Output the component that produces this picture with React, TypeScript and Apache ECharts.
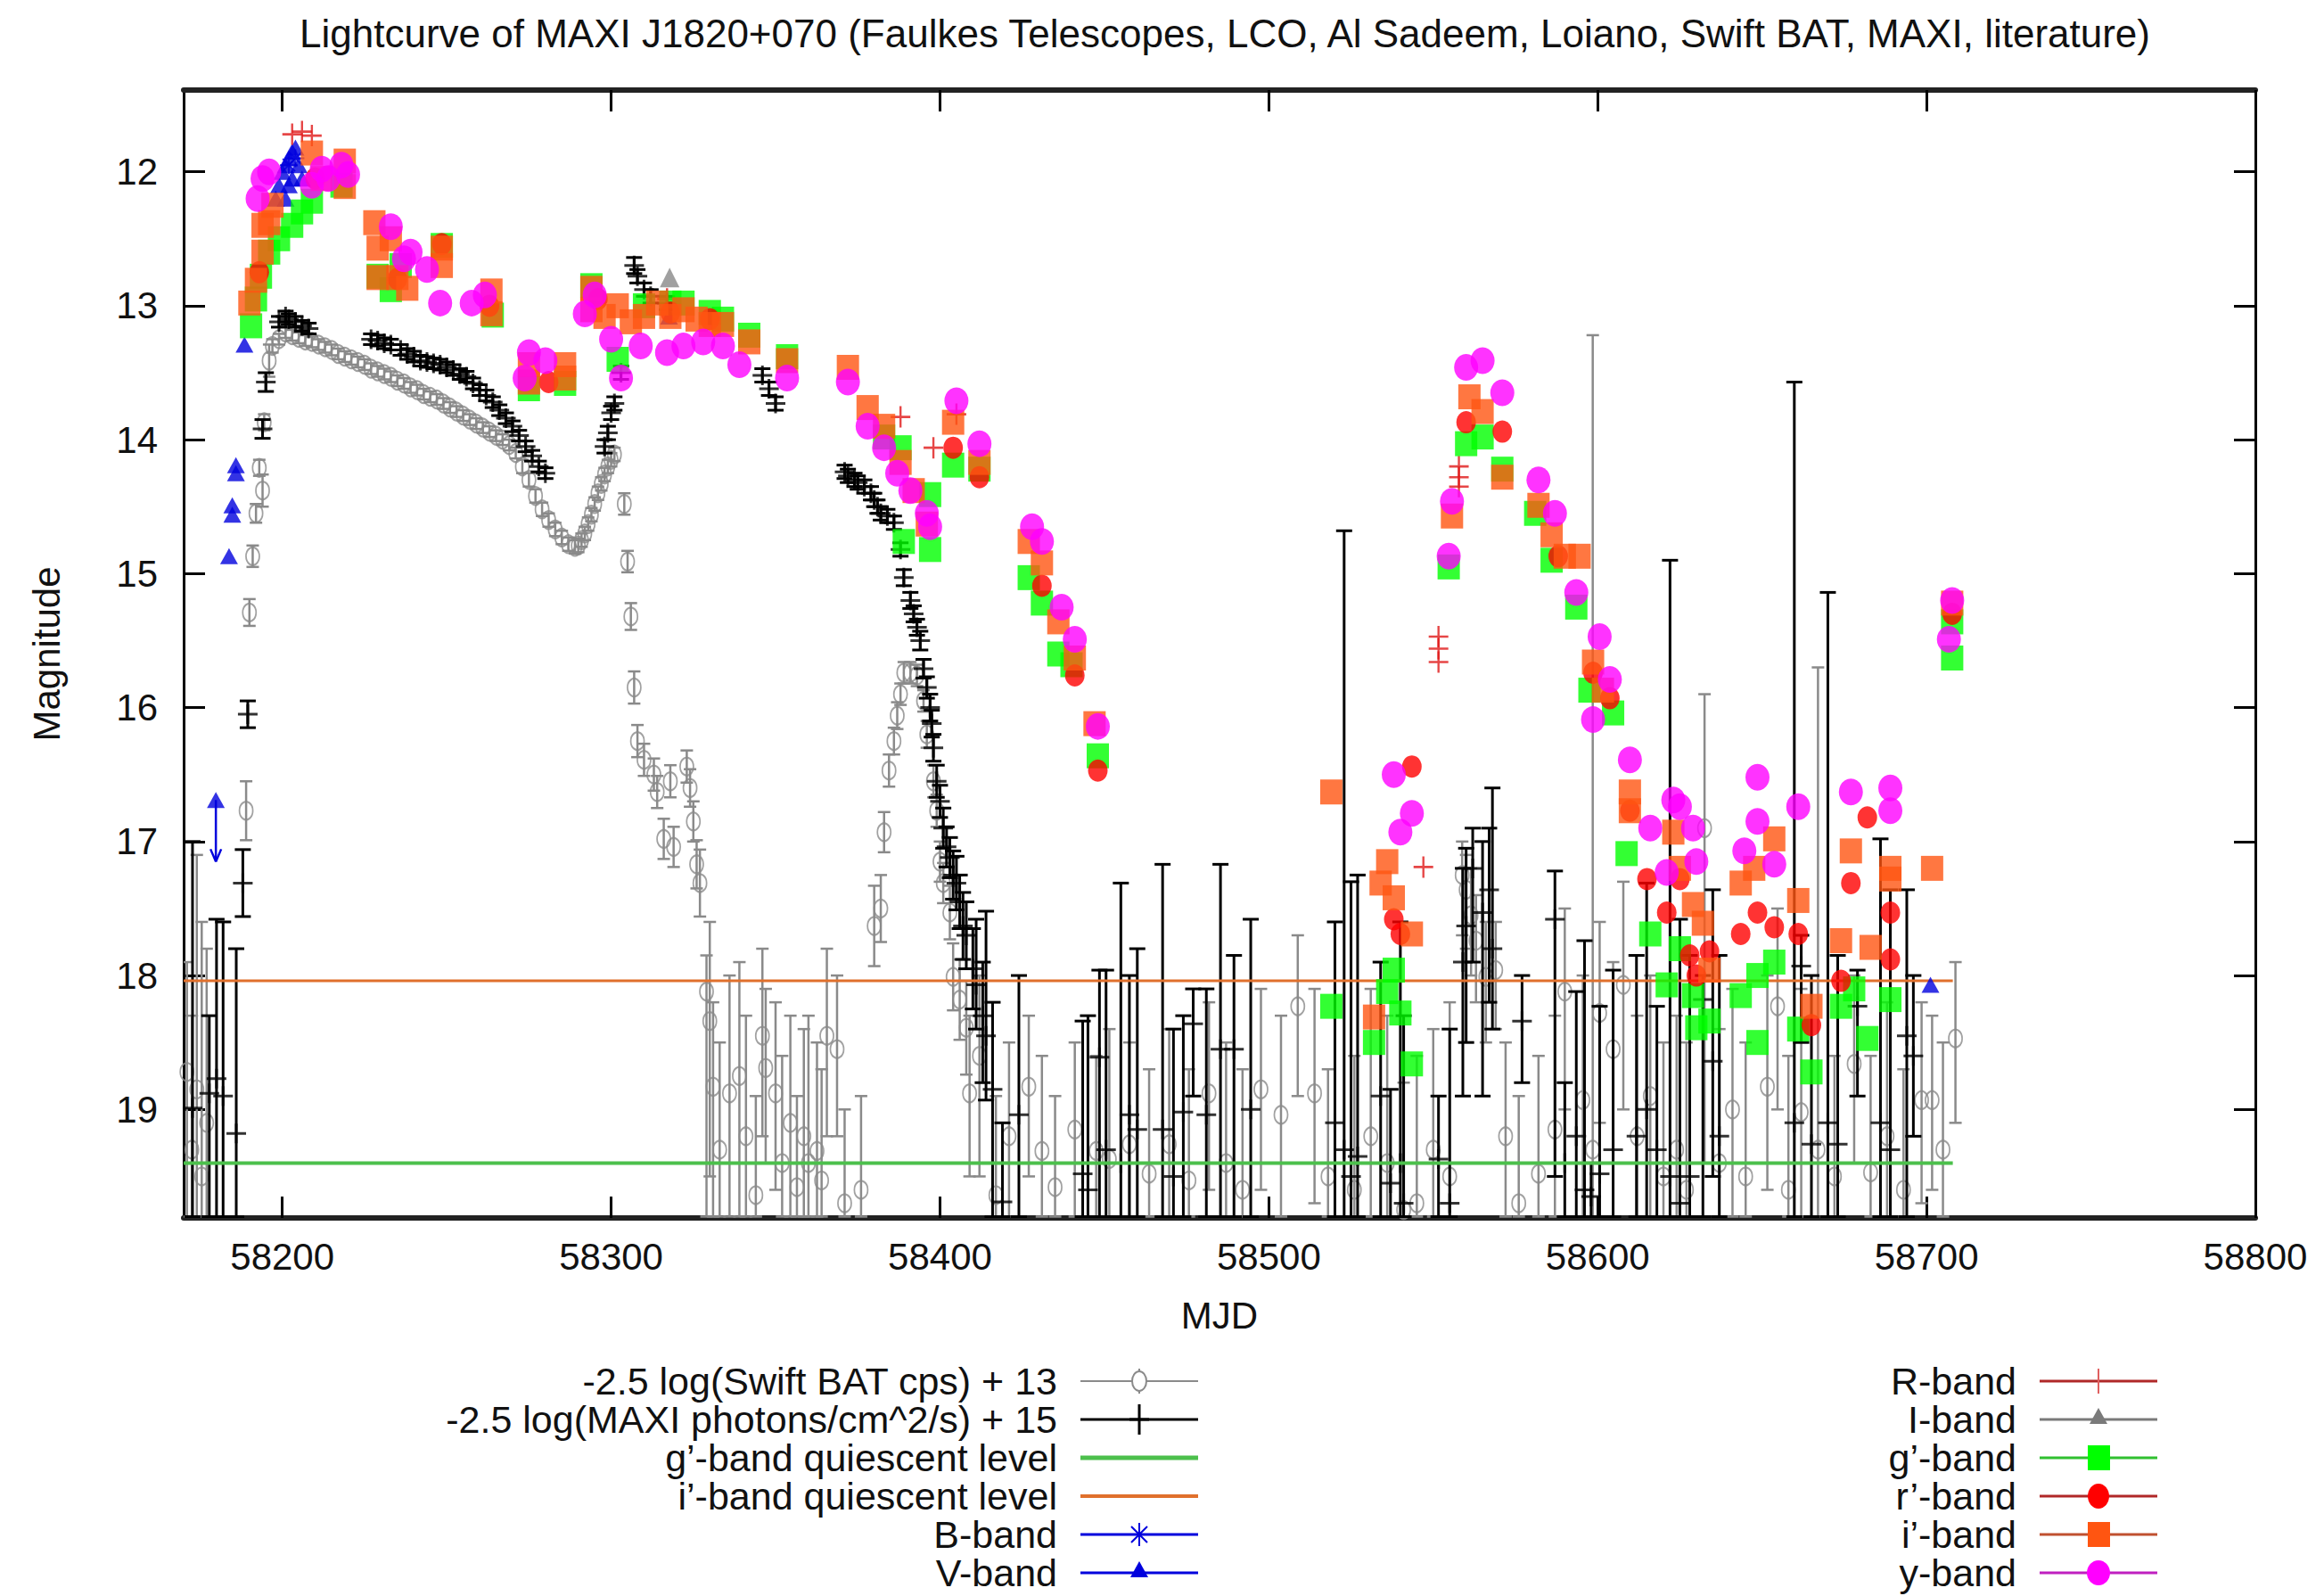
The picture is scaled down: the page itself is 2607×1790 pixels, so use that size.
import React, { useEffect, useRef } from "react";
import * as echarts from "echarts";

const FONT = "'Liberation Sans', Arial, Helvetica, sans-serif";
const TITLE =
  "Lightcurve of MAXI J1820+070 (Faulkes Telescopes, LCO, Al Sadeem, Loiano, Swift BAT, MAXI, literature)";
const X_NAME = "MJD";
const Y_NAME = "Magnitude";

const X_MIN = 58170;
const X_MAX = 58800;
const Y_MIN = 11.39;
const Y_MAX = 19.81;
const xTickValues = [58200, 58300, 58400, 58500, 58600, 58700, 58800];
const yTickValues = [12, 13, 14, 15, 16, 17, 18, 19];

// quiescent levels
const gQuiescent = 19.4;
const iQuiescent = 18.04;
const quiescentSpan = [58170, 58708];

// Swift BAT: [mjd, mag, err]
const batBright = [
  [58189, 16.77, 0.22], [58190, 15.29, 0.1], [58191, 14.87, 0.08], [58192, 14.55, 0.07],
  [58193, 14.21, 0.06], [58194, 14.38, 0.12], [58194.5, 13.87, 0.06], [58196, 13.41, 0.12],
  [58197, 13.3, 0.05], [58199, 13.25, 0.04],
  [58201, 13.2, 0.04], [58203, 13.22, 0.04], [58205, 13.24, 0.04], [58207, 13.26, 0.04],
  [58209, 13.27, 0.04], [58211, 13.29, 0.04], [58213, 13.31, 0.04], [58215, 13.33, 0.04],
  [58217, 13.36, 0.04], [58219, 13.38, 0.04], [58221, 13.4, 0.04], [58223, 13.42, 0.04],
  [58225, 13.44, 0.04], [58227, 13.47, 0.04], [58229, 13.49, 0.04], [58231, 13.51, 0.04],
  [58233, 13.53, 0.04], [58235, 13.56, 0.04], [58237, 13.58, 0.04], [58239, 13.61, 0.04],
  [58241, 13.63, 0.04], [58243, 13.66, 0.04], [58245, 13.68, 0.04], [58247, 13.7, 0.04],
  [58249, 13.73, 0.04], [58251, 13.76, 0.04], [58253, 13.79, 0.04], [58255, 13.82, 0.04],
  [58257, 13.85, 0.04], [58259, 13.88, 0.04], [58261, 13.91, 0.04], [58263, 13.94, 0.04],
  [58265, 13.97, 0.04], [58267, 14.0, 0.04], [58269, 14.04, 0.04], [58271, 14.1, 0.04],
  [58273, 14.2, 0.05], [58275, 14.3, 0.05], [58277, 14.42, 0.05], [58279, 14.52, 0.05],
  [58281, 14.6, 0.05], [58283, 14.67, 0.05], [58285, 14.73, 0.05], [58287, 14.78, 0.05],
  [58289, 14.8, 0.05], [58290, 14.79, 0.05], [58291, 14.75, 0.05], [58292, 14.7, 0.05],
  [58293, 14.63, 0.05], [58294, 14.56, 0.05], [58295, 14.48, 0.05], [58296, 14.4, 0.05],
  [58297, 14.33, 0.05], [58298, 14.26, 0.05], [58299, 14.2, 0.05], [58300, 14.15, 0.05],
  [58301, 14.11, 0.05],
  [58304, 14.48, 0.08], [58305, 14.91, 0.08], [58306, 15.32, 0.1], [58307, 15.85, 0.12],
  [58308, 16.25, 0.12], [58310, 16.39, 0.12], [58313, 16.5, 0.12], [58314, 16.63, 0.12],
  [58316, 16.98, 0.15], [58318, 16.55, 0.12], [58319, 17.04, 0.15], [58323, 16.44, 0.12],
  [58324, 16.6, 0.14], [58325, 16.85, 0.15], [58326, 17.17, 0.18], [58327, 17.31, 0.25],
  [58380, 17.63, 0.3], [58382, 17.5, 0.25], [58383, 16.93, 0.15], [58384.5, 16.47, 0.12],
  [58386, 16.25, 0.1], [58387, 16.06, 0.1], [58388, 15.9, 0.08], [58389, 15.74, 0.08],
  [58391, 15.74, 0.08], [58393, 15.76, 0.08], [58395, 15.95, 0.08], [58396, 16.2, 0.1],
  [58398, 16.55, 0.12], [58399, 16.77, 0.12], [58400, 17.15, 0.15], [58401, 17.31, 0.15],
  [58403, 17.53, 0.2], [58404, 18.01, 0.25], [58406, 18.18, 0.3], [58408, 18.39, 0.35],
];

// Swift BAT faint points: [mjd, mag, brightLimit, faintLimit]
const batFaint = [
  [58171, 18.72, 17.9, 19.8], [58172.5, 19.3, 18.3, 19.8], [58174, 18.85, 17.1, 19.8],
  [58175.5, 19.5, 17.6, 19.8], [58177, 19.1, 17.8, 19.8],
  [58329, 18.12, 17.85, 19.8], [58330, 18.34, 17.6, 19.5], [58331, 18.83, 18.2, 19.8],
  [58333, 19.3, 18.5, 19.8], [58336, 18.88, 18.0, 19.8], [58339, 18.75, 17.9, 19.8],
  [58341, 19.2, 18.3, 19.8], [58344, 19.64, 18.9, 19.8], [58346, 18.45, 17.8, 19.2],
  [58347, 18.69, 18.1, 19.4], [58350, 18.88, 18.2, 19.6], [58352, 19.4, 18.6, 19.8],
  [58354.5, 19.1, 18.3, 19.8], [58356.5, 19.58, 18.9, 19.8], [58358.6, 19.2, 18.4, 19.8],
  [58360, 19.4, 18.3, 19.8], [58362.6, 19.31, 18.5, 19.8], [58364, 19.53, 18.7, 19.8],
  [58365.6, 18.45, 17.8, 19.2], [58368.7, 18.55, 18.0, 19.2], [58371, 19.7, 19.0, 19.8],
  [58376, 19.6, 18.9, 19.8],
  [58409, 18.88, 18.3, 19.5], [58412, 18.6, 18.0, 19.5], [58417, 19.64, 18.9, 19.8],
  [58421, 19.2, 18.5, 19.8], [58427, 18.83, 18.3, 19.5], [58431, 19.31, 18.6, 19.8],
  [58435, 19.58, 18.9, 19.8], [58441, 19.15, 18.5, 19.8], [58447.5, 19.31, 18.6, 19.8],
  [58451.5, 19.37, 18.4, 19.8], [58457.6, 19.26, 18.5, 19.8], [58463.6, 19.48, 18.7, 19.8],
  [58469.7, 19.26, 18.4, 19.8], [58475.7, 19.53, 18.7, 19.8], [58481.8, 18.88, 18.2, 19.6],
  [58487, 19.4, 18.5, 19.8], [58492, 19.6, 18.7, 19.8], [58497.6, 18.85, 18.1, 19.6],
  [58503.7, 19.04, 18.3, 19.8], [58508.8, 18.23, 17.7, 18.9], [58513.9, 18.88, 18.1, 19.7],
  [58518, 19.5, 18.7, 19.8], [58526, 19.6, 18.6, 19.8], [58531, 19.2, 18.1, 19.8],
  [58536, 19.4, 18.3, 19.8], [58541, 19.75, 18.8, 19.8], [58545, 19.7, 18.6, 19.8],
  [58550, 19.3, 18.4, 19.8], [58555, 19.5, 18.2, 19.8], [58558.8, 17.25, 17.0, 17.7],
  [58560, 17.36, 17.1, 17.8], [58561.5, 17.55, 17.2, 18.0], [58563, 17.74, 17.4, 18.2],
  [58566, 18.01, 17.6, 18.5], [58569, 17.96, 17.6, 18.4], [58572, 19.2, 18.5, 19.8],
  [58576, 19.7, 18.9, 19.8], [58582, 19.48, 18.6, 19.8], [58587, 19.15, 18.3, 19.8],
  [58590, 18.12, 17.5, 19.0], [58595.5, 18.93, 18.0, 19.8], [58598.5, 19.3, 13.22, 19.8],
  [58600.6, 18.28, 17.6, 19.1], [58604.7, 18.55, 17.9, 19.4], [58607.8, 18.07, 17.3, 19.0],
  [58612, 19.2, 18.3, 19.8], [58616, 18.9, 18.0, 19.8], [58620, 19.5, 18.5, 19.8],
  [58624, 19.3, 18.3, 19.8], [58627, 19.6, 18.5, 19.8], [58632.5, 16.9, 15.9, 19.4],
  [58637, 19.4, 18.4, 19.8], [58641, 19.0, 18.1, 19.8], [58645, 19.5, 18.5, 19.8],
  [58651.6, 18.83, 18.0, 19.6], [58654.7, 18.23, 17.5, 19.0], [58658, 19.6, 18.6, 19.8],
  [58661.9, 19.02, 18.1, 19.8], [58667, 19.3, 15.7, 19.8], [58672, 19.5, 18.6, 19.8],
  [58678, 18.66, 18.0, 19.4], [58683, 19.47, 18.6, 19.8], [58688, 19.2, 18.2, 19.8],
  [58693, 19.6, 18.7, 19.8], [58698.5, 18.93, 18.2, 19.7], [58701.7, 18.93, 18.3, 19.6],
  [58705, 19.3, 18.5, 19.8], [58708.8, 18.47, 17.9, 19.1],
];

// MAXI: [mjd, mag, err]
const maxiBright = [
  [58188, 17.31, 0.25], [58189.5, 16.05, 0.1], [58194, 13.92, 0.07], [58195, 13.57, 0.07],
  [58199, 13.12, 0.04], [58201, 13.08, 0.04], [58202, 13.1, 0.04], [58204, 13.12, 0.04],
  [58206, 13.15, 0.04], [58208, 13.17, 0.04], [58227, 13.25, 0.04], [58229, 13.26, 0.04],
  [58231, 13.28, 0.04], [58233, 13.29, 0.04], [58236, 13.33, 0.04], [58238, 13.36, 0.04],
  [58240, 13.38, 0.04], [58242, 13.41, 0.04], [58244, 13.42, 0.04], [58246, 13.43, 0.04],
  [58248, 13.44, 0.04], [58250, 13.46, 0.04], [58252, 13.48, 0.04], [58254, 13.51, 0.04],
  [58256, 13.53, 0.04], [58258, 13.58, 0.04], [58260, 13.63, 0.04], [58262, 13.67, 0.04],
  [58264, 13.72, 0.04], [58266, 13.78, 0.04], [58268, 13.84, 0.04], [58270, 13.9, 0.04],
  [58272, 13.97, 0.04], [58274, 14.05, 0.04], [58276, 14.12, 0.04], [58278, 14.2, 0.04],
  [58280, 14.25, 0.04],
  [58298, 14.05, 0.05], [58299, 13.95, 0.05], [58300, 13.8, 0.05], [58301, 13.73, 0.05],
  [58303, 13.5, 0.05], [58307, 12.7, 0.06], [58308, 12.78, 0.05], [58310, 12.88, 0.05],
  [58312, 12.93, 0.05], [58317, 12.98, 0.05], [58346, 13.52, 0.05], [58348, 13.62, 0.05],
  [58350, 13.73, 0.05],
  [58371, 14.24, 0.05], [58372, 14.27, 0.05], [58374, 14.3, 0.05], [58375, 14.32, 0.05],
  [58377, 14.35, 0.05], [58379, 14.4, 0.05], [58380, 14.45, 0.05], [58381, 14.5, 0.05],
  [58382, 14.55, 0.05], [58384, 14.57, 0.05], [58386, 14.62, 0.05], [58388, 14.82, 0.05],
  [58389, 15.03, 0.06], [58391, 15.2, 0.06], [58392, 15.3, 0.06], [58393, 15.4, 0.06],
  [58394, 15.5, 0.07], [58395, 15.71, 0.07], [58396, 15.85, 0.08], [58397, 16.0, 0.1],
  [58397.5, 16.12, 0.1], [58398, 16.3, 0.1], [58399, 16.55, 0.12], [58400, 16.7, 0.12],
  [58401, 16.9, 0.15], [58402, 17.04, 0.15], [58403, 17.12, 0.15], [58404, 17.25, 0.18],
  [58405, 17.31, 0.2], [58406, 17.45, 0.2], [58407, 17.63, 0.25], [58408, 17.7, 0.25],
  [58410, 17.95, 0.3],
];

// MAXI faint points: [mjd, mag, brightLimit, faintLimit]
const maxiFaint = [
  [58172.7, 18.99, 17.0, 19.8], [58177.8, 18.88, 18.3, 19.8], [58180, 18.77, 17.58, 19.8],
  [58182, 18.9, 17.6, 19.8], [58186, 19.18, 17.8, 19.8],
  [58411, 18.07, 17.58, 18.4], [58413, 18.3, 17.9, 18.8], [58414, 18.45, 17.52, 18.93],
  [58416, 18.85, 18.2, 19.8], [58419, 19.69, 19.1, 19.8], [58424, 19.04, 18.0, 19.8],
  [58443.4, 19.48, 18.34, 19.8], [58445, 19.6, 18.3, 19.8], [58448.5, 18.61, 17.96, 19.8],
  [58450.5, 19.3, 17.96, 19.8], [58455, 19.4, 17.31, 19.8], [58457.6, 19.04, 18.0, 19.8],
  [58460, 19.15, 17.8, 19.8], [58467.7, 19.15, 17.17, 19.8], [58471, 19.5, 18.4, 19.8],
  [58474, 19.02, 18.3, 19.8], [58477, 18.36, 18.1, 18.9], [58481, 19.04, 18.1, 19.8],
  [58485.3, 18.55, 17.17, 19.8], [58489.4, 18.55, 17.85, 19.8], [58494.5, 19.0, 17.58, 19.8],
  [58520.1, 19.1, 17.6, 19.8], [58522.9, 19.3, 14.68, 19.8], [58525, 19.5, 17.3, 19.8],
  [58527, 19.35, 17.25, 19.8], [58534, 18.9, 17.9, 19.8], [58537, 19.55, 18.85, 19.8],
  [58540, 19.4, 17.6, 19.8], [58541, 19.7, 18.3, 19.8], [58551.6, 19.37, 18.9, 19.8],
  [58555, 19.7, 18.4, 19.8], [58559, 17.9, 17.2, 18.9], [58560, 17.63, 17.05, 18.5],
  [58562, 17.2, 16.9, 17.9], [58565, 17.53, 17.0, 18.9], [58567, 17.36, 16.9, 18.2],
  [58568, 17.8, 16.6, 18.4], [58577, 18.34, 18.0, 18.8], [58587, 17.58, 17.22, 19.5],
  [58590, 19.4, 18.8, 19.8], [58593.5, 19.2, 18.12, 19.8], [58596, 19.6, 17.74, 19.8],
  [58598, 19.65, 19.4, 19.8], [58600.6, 19.48, 18.23, 19.8], [58604.7, 19.3, 17.96, 19.8],
  [58611.8, 19.2, 17.85, 19.8], [58614.9, 19.0, 17.31, 19.8], [58618, 19.3, 18.23, 19.8],
  [58622, 19.5, 14.9, 19.8], [58625, 19.7, 17.58, 19.8], [58628, 19.5, 17.85, 19.8],
  [58632, 18.18, 18.0, 19.8], [58635, 18.64, 17.36, 19.5], [58637, 19.2, 17.85, 19.8],
  [58659.8, 19.1, 13.57, 19.8], [58661.9, 17.93, 17.7, 18.5], [58665, 19.26, 18.0, 19.8],
  [58670, 19.1, 15.14, 19.8], [58673, 19.26, 17.85, 19.8], [58679, 18.23, 17.96, 18.9],
  [58686, 19.1, 16.98, 19.8], [58689, 19.3, 17.36, 19.8], [58694, 18.45, 17.36, 19.8],
  [58696, 18.6, 18.0, 19.2],
];

const bBand = [[58202, 11.95], [58204, 11.9]];
const vBand = [
  [58179.8, 16.69], [58183.8, 14.87], [58184.8, 14.49], [58184.8, 14.56], [58185.9, 14.19],
  [58185.9, 14.25], [58188.5, 13.29], [58198, 12.2], [58199, 12.1], [58200, 12.0],
  [58201, 12.2], [58201, 11.95], [58202, 12.1], [58202, 11.9], [58203, 12.05],
  [58203, 11.85], [58204, 11.82], [58205, 11.95], [58206, 12.05], [58317.6, 13.08],
  [58701.2, 18.07],
];
// V-band upper limit: [mjd, mag, arrowEnd]
const vLimit = [[58179.8, 16.69, 17.15]];
const rBandJ = [
  [58203, 11.72], [58206, 11.7], [58209, 11.73], [58317, 12.95], [58388, 13.83],
  [58398, 14.06], [58405, 13.81], [58547, 17.19], [58551.6, 15.47], [58551.6, 15.56],
  [58551.6, 15.66], [58557.8, 14.2], [58557.8, 14.28], [58557.8, 14.35],
];
const iBandJ = [[58317.8, 12.79]];
const gBand = [
  [58190.5, 13.15], [58192, 12.95], [58193.5, 12.78], [58196, 12.6], [58199, 12.5],
  [58203, 12.4], [58206, 12.3], [58209, 12.22], [58218, 12.1], [58229, 12.78], [58233, 12.88],
  [58236, 12.7], [58248.5, 12.55], [58264, 13.07], [58275, 13.62], [58286, 13.58],
  [58294, 12.85], [58302, 13.4], [58310, 13.0], [58318, 12.98], [58322, 12.98], [58330, 13.05],
  [58334, 13.1], [58342, 13.22], [58353.5, 13.38], [58383, 13.98], [58388, 14.06],
  [58389, 14.76], [58397, 14.41], [58397, 14.82], [58404, 14.19], [58412, 14.22],
  [58427, 15.03], [58431, 15.22], [58436, 15.6], [58440, 15.68], [58448, 16.36],
  [58519, 18.23], [58532, 18.5], [58536, 18.12], [58538, 17.96], [58540, 18.28],
  [58543.5, 18.66], [58554.7, 14.95], [58560, 14.03], [58565, 13.98], [58571, 14.22],
  [58581, 14.55], [58586, 14.9], [58593.5, 15.25], [58597.5, 15.87], [58604.7, 16.04],
  [58608.8, 17.09], [58616, 17.69], [58621, 18.07], [58625, 17.8], [58629, 18.15],
  [58630, 18.39], [58634, 18.34], [58643.5, 18.15], [58648.6, 18.5], [58648.6, 18.0],
  [58653.7, 17.9], [58661, 18.4], [58665, 18.72], [58674, 18.23], [58678, 18.1],
  [58682, 18.47], [58689, 18.18], [58707.8, 15.63], [58707.8, 15.36],
];
const rBand = [
  [58193, 12.75], [58210, 12.05], [58235, 12.8], [58248.5, 12.54], [58263, 13.0],
  [58281, 13.57], [58296, 12.95], [58318, 13.05], [58330, 13.1], [58404, 14.06],
  [58412, 14.28], [58431, 15.09], [58441, 15.76], [58448, 16.47],
  [58538, 17.58], [58540, 17.69], [58543.5, 16.44], [58560, 13.87], [58571, 13.94],
  [58588, 14.87], [58598.6, 15.74], [58603.7, 15.93], [58609.8, 16.77], [58615, 17.28],
  [58621, 17.53], [58625, 17.28], [58628, 17.85], [58630, 18.0], [58634, 17.82],
  [58643.5, 17.69], [58648.6, 17.53], [58653.7, 17.64], [58661, 17.69], [58665, 18.37],
  [58674, 18.04], [58677, 17.31], [58682, 16.82], [58689, 17.53], [58689, 17.88],
  [58707.8, 15.3],
];
const iBand = [
  [58190, 12.98], [58192, 12.81], [58194, 12.6], [58194, 12.4], [58196, 12.38],
  [58197, 12.25], [58209, 11.86], [58212, 12.05], [58219, 12.11],
  [58219, 11.92], [58228, 12.38], [58229, 12.57], [58229, 12.79], [58233, 12.5],
  [58235, 12.79], [58238, 12.87], [58248.5, 12.57], [58248.5, 12.7], [58263.6, 12.89],
  [58263.6, 13.06], [58275, 13.44], [58275, 13.57], [58286, 13.44], [58286, 13.54],
  [58294, 12.87], [58294, 13.03], [58298, 13.08], [58302, 13.0], [58306, 13.12],
  [58310, 13.08], [58314, 12.98], [58318, 13.08], [58322, 13.03], [58326, 13.1],
  [58330, 13.14], [58334, 13.14], [58342, 13.27], [58353.5, 13.41], [58372, 13.46],
  [58378, 13.76], [58383, 13.9], [58388, 14.17], [58392, 14.38], [58396, 14.63],
  [58404, 13.87], [58412, 14.17], [58427, 14.76], [58431, 14.92], [58436, 15.36],
  [58441, 15.63], [58447, 16.12],
  [58519, 16.63], [58532, 18.31], [58534, 17.31], [58536, 17.15], [58538, 17.42],
  [58543.5, 17.69], [58555.7, 14.57], [58561, 13.68], [58565, 13.79], [58571, 14.28],
  [58582, 14.49], [58586, 14.71], [58590, 14.87], [58594.5, 14.87], [58598.6, 15.66],
  [58601.6, 15.87], [58609.8, 16.63], [58609.8, 16.77], [58623, 16.93], [58625, 17.2],
  [58629, 17.47], [58632, 17.61], [58634, 17.96], [58643.5, 17.31], [58647.6, 17.2],
  [58653.7, 16.98], [58661, 17.44], [58665, 18.23], [58674, 17.74], [58677, 17.07],
  [58683, 17.79], [58689, 17.2], [58689, 17.28], [58701.7, 17.2], [58707.8, 15.22],
];
const yBand = [
  [58192.5, 12.2], [58194, 12.05], [58196, 12.0], [58209, 12.1], [58212, 11.98],
  [58214, 12.05], [58218, 11.95], [58220, 12.02], [58233, 12.41], [58237, 12.65], [58239, 12.6],
  [58244, 12.73], [58248, 12.98], [58257.6, 12.98], [58261.6, 12.92], [58273.7, 13.54],
  [58275, 13.35], [58280, 13.41], [58292, 13.06], [58295, 12.92], [58300, 13.25],
  [58303, 13.54], [58309, 13.3], [58317, 13.35], [58322, 13.3], [58328, 13.27],
  [58334, 13.3], [58339, 13.44], [58353.5, 13.54], [58372, 13.57], [58378, 13.9],
  [58383, 14.06], [58387, 14.25], [58391, 14.38], [58396, 14.55], [58397, 14.65],
  [58405, 13.71], [58412, 14.03], [58428, 14.65], [58431, 14.76], [58437, 15.25],
  [58441, 15.49], [58448, 16.14],
  [58538, 16.5], [58540, 16.93], [58543.5, 16.79], [58554.7, 14.87], [58555.7, 14.46],
  [58560, 13.46], [58565, 13.41], [58571, 13.65], [58582, 14.3], [58587, 14.55],
  [58593.5, 15.14], [58598.6, 16.09], [58600.6, 15.47], [58603.7, 15.79], [58609.8, 16.39],
  [58616, 16.9], [58621, 17.23], [58623, 16.69], [58625, 16.74], [58629, 16.9],
  [58630, 17.15], [58644.6, 17.07], [58648.6, 16.52], [58648.6, 16.85], [58653.7, 17.17],
  [58661, 16.74], [58677, 16.63], [58689, 16.6], [58689, 16.77], [58706.8, 15.49],
  [58707.8, 15.2],
];

const C = {
  bat: "#8a8a8a",
  maxi: "#000000",
  gQ: "#4cc04c",
  iQ: "#e0702c",
  blue: "#0000dd",
  R: "#e01818",
  I: "#888888",
  g: "#00ff00",
  r: "#ff0000",
  i: "#ff5511",
  y: "#ff00ff",
};

const PLUS = "path://M10 0 L10 20 M0 10 L20 10";
const STAR = "path://M10 0 L10 20 M0 10 L20 10 M3 3 L17 17 M17 3 L3 17";

const symErr = (arr: number[][]) => arr.map((d) => [d[0], d[1], d[1] - d[2], d[1] + d[2]]);

function errorBars(id: string, data: number[][], color: string, lw: number, cap: number, z: number) {
  return {
    type: "custom",
    id,
    name: id,
    z,
    silent: true,
    clip: true,
    data,
    encode: { x: 0, y: 1 },
    renderItem: (_p: any, api: any) => {
      const x = api.value(0);
      const a = api.coord([x, api.value(2)]);
      const b = api.coord([x, api.value(3)]);
      const st = { stroke: color, lineWidth: lw };
      return {
        type: "group",
        children: [
          { type: "line", shape: { x1: a[0], y1: a[1], x2: b[0], y2: b[1] }, style: st },
          { type: "line", shape: { x1: a[0] - cap, y1: a[1], x2: a[0] + cap, y2: a[1] }, style: st },
          { type: "line", shape: { x1: b[0] - cap, y1: b[1], x2: b[0] + cap, y2: b[1] }, style: st },
        ],
      };
    },
  };
}

function scatter(name: string, data: number[][], symbol: string, size: any, itemStyle: any, z: number) {
  return {
    type: "scatter",
    name,
    data: data.map((d) => [d[0], d[1]]),
    symbol,
    symbolSize: size,
    itemStyle,
    z,
    silent: true,
    clip: true,
  };
}

// ---------- legend (drawn as graphics, gnuplot style) ----------
const legendLeft = [
  { label: "-2.5 log(Swift BAT cps) + 13", color: C.bat, mark: "ocircle", lw: 2 },
  { label: "-2.5 log(MAXI photons/cm^2/s) + 15", color: C.maxi, mark: "plus", lw: 3 },
  { label: "g’-band quiescent level", color: C.gQ, mark: "", lw: 5 },
  { label: "i’-band quiescent level", color: C.iQ, mark: "", lw: 4 },
  { label: "B-band", color: C.blue, mark: "star", lw: 3 },
  { label: "V-band", color: C.blue, mark: "tri", lw: 3 },
];
const legendRight = [
  { label: "R-band", color: "#b02828", mark: "plusR", lw: 3 },
  { label: "I-band", color: "#7a7a7a", mark: "triI", lw: 3 },
  { label: "g’-band", color: "#30c030", mark: "sqG", lw: 3 },
  { label: "r’-band", color: "#b02828", mark: "cirR", lw: 3 },
  { label: "i’-band", color: "#c05030", mark: "sqI", lw: 3 },
  { label: "y-band", color: "#c020c0", mark: "cirY", lw: 3 },
];
const legendRows = [1549, 1592, 1635, 1678, 1721, 1764];

function legendMarker(mark: string, cx: number, cy: number): any[] {
  switch (mark) {
    case "ocircle":
      return [
        { type: "line", shape: { x1: cx, y1: cy - 14, x2: cx, y2: cy + 14 }, style: { stroke: C.bat, lineWidth: 2 } },
        { type: "ellipse", shape: { cx, cy, rx: 8, ry: 11 }, style: { fill: "#fff", stroke: C.bat, lineWidth: 2 } },
      ];
    case "plus":
      return [
        { type: "line", shape: { x1: cx, y1: cy - 17, x2: cx, y2: cy + 17 }, style: { stroke: "#000", lineWidth: 3 } },
        { type: "line", shape: { x1: cx - 11, y1: cy, x2: cx + 11, y2: cy }, style: { stroke: "#000", lineWidth: 3 } },
      ];
    case "star":
      return [
        { type: "line", shape: { x1: cx, y1: cy - 13, x2: cx, y2: cy + 13 }, style: { stroke: C.blue, lineWidth: 2 } },
        { type: "line", shape: { x1: cx - 9, y1: cy - 9, x2: cx + 9, y2: cy + 9 }, style: { stroke: C.blue, lineWidth: 2 } },
        { type: "line", shape: { x1: cx + 9, y1: cy - 9, x2: cx - 9, y2: cy + 9 }, style: { stroke: C.blue, lineWidth: 2 } },
      ];
    case "tri":
      return [{ type: "polygon", shape: { points: [[cx, cy - 13], [cx - 10, cy + 5], [cx + 10, cy + 5]] }, style: { fill: C.blue } }];
    case "plusR":
      return [{ type: "line", shape: { x1: cx, y1: cy - 14, x2: cx, y2: cy + 14 }, style: { stroke: "#e06060", lineWidth: 2 } }];
    case "triI":
      return [{ type: "polygon", shape: { points: [[cx, cy - 13], [cx - 10, cy + 5], [cx + 10, cy + 5]] }, style: { fill: "#7a7a7a" } }];
    case "sqG":
      return [{ type: "rect", shape: { x: cx - 12, y: cy - 14, width: 25, height: 28 }, style: { fill: C.g } }];
    case "cirR":
      return [{ type: "ellipse", shape: { cx, cy, rx: 12, ry: 14 }, style: { fill: C.r } }];
    case "sqI":
      return [{ type: "rect", shape: { x: cx - 12, y: cy - 14, width: 25, height: 28 }, style: { fill: C.i } }];
    case "cirY":
      return [{ type: "ellipse", shape: { cx, cy, rx: 13, ry: 14 }, style: { fill: C.y } }];
    default:
      return [];
  }
}

function legendGraphics(items: any[], textRight: number, lx1: number, lx2: number): any[] {
  const out: any[] = [];
  items.forEach((it, k) => {
    const y = legendRows[k];
    out.push({
      type: "text",
      x: textRight,
      y,
      style: { text: it.label, fill: "#111", font: `43px ${FONT}`, textAlign: "right", textVerticalAlign: "middle" },
    });
    out.push({ type: "line", shape: { x1: lx1, y1: y, x2: lx2, y2: y }, style: { stroke: it.color, lineWidth: it.lw } });
    legendMarker(it.mark, (lx1 + lx2) / 2, y).forEach((m) => out.push(m));
  });
  return out;
}

export default function App() {
  const ref = useRef<HTMLDivElement>(null);

  useEffect(() => {
    if (!ref.current) return;
    const chart = echarts.init(ref.current, null, { renderer: "svg" });

    const axisFont = { fontFamily: FONT, fontSize: 42, color: "#111" };
    const batAll = symErr(batBright).concat(batFaint);
    const maxiAll = symErr(maxiBright).concat(maxiFaint);
    const plain = (v: number) => String(v);

    const option: any = {
      animation: false,
      backgroundColor: "#ffffff",
      title: {
        text: TITLE,
        left: 1369,
        top: 10,
        textAlign: "center",
        textStyle: { fontFamily: FONT, fontSize: 44, fontWeight: "normal", color: "#111" },
      },
      grid: { left: 206, top: 101, width: 2324, height: 1265 },
      xAxis: [
        {
          type: "value",
          position: "bottom",
          min: X_MIN,
          max: X_MAX,
          name: X_NAME,
          nameLocation: "middle",
          nameGap: 88,
          nameTextStyle: { fontFamily: FONT, fontSize: 42, color: "#111" },
          axisLine: { show: true, onZero: false, lineStyle: { color: "#222", width: 6 } },
          axisTick: { show: true, inside: true, length: 24, customValues: xTickValues, lineStyle: { color: "#000", width: 3 } },
          axisLabel: { show: true, customValues: xTickValues, margin: 22, formatter: plain, ...axisFont },
          splitLine: { show: false },
        },
        {
          type: "value",
          position: "top",
          min: X_MIN,
          max: X_MAX,
          axisLine: { show: true, onZero: false, lineStyle: { color: "#222", width: 6 } },
          axisTick: { show: true, inside: true, length: 24, customValues: xTickValues, lineStyle: { color: "#000", width: 3 } },
          axisLabel: { show: false },
          splitLine: { show: false },
        },
      ],
      yAxis: [
        {
          type: "value",
          position: "left",
          inverse: true,
          min: Y_MIN,
          max: Y_MAX,
          name: Y_NAME,
          nameLocation: "middle",
          nameRotate: 90,
          nameGap: 133,
          nameTextStyle: { fontFamily: FONT, fontSize: 42, color: "#111" },
          axisLine: { show: true, onZero: false, lineStyle: { color: "#000", width: 3 } },
          axisTick: { show: true, inside: true, length: 24, customValues: yTickValues, lineStyle: { color: "#000", width: 3 } },
          axisLabel: { show: true, customValues: yTickValues, margin: 29, formatter: plain, ...axisFont },
          splitLine: { show: false },
        },
        {
          type: "value",
          position: "right",
          inverse: true,
          min: Y_MIN,
          max: Y_MAX,
          axisLine: { show: true, onZero: false, lineStyle: { color: "#000", width: 3 } },
          axisTick: { show: true, inside: true, length: 24, customValues: yTickValues, lineStyle: { color: "#000", width: 3 } },
          axisLabel: { show: false },
          splitLine: { show: false },
        },
      ],
      series: [
        errorBars("batErr", batAll, C.bat, 2.5, 7, 2),
        scatter("-2.5 log(Swift BAT cps) + 13", batAll, "circle", [15, 20],
          { color: "rgba(255,255,255,0)", borderColor: C.bat, borderWidth: 2 }, 2),
        errorBars("maxiErr", maxiAll, C.maxi, 3, 9, 3),
        scatter("-2.5 log(MAXI photons/cm^2/s) + 15", maxiAll, PLUS, [22, 22],
          { color: "rgba(0,0,0,0)", borderColor: C.maxi, borderWidth: 3 }, 3),
        {
          type: "line",
          name: "g’-band quiescent level",
          data: quiescentSpan.map((x) => [x, gQuiescent]),
          showSymbol: false,
          silent: true,
          lineStyle: { color: C.gQ, width: 4 },
          z: 4,
        },
        {
          type: "line",
          name: "i’-band quiescent level",
          data: quiescentSpan.map((x) => [x, iQuiescent]),
          showSymbol: false,
          silent: true,
          lineStyle: { color: C.iQ, width: 3 },
          z: 4,
        },
        scatter("B-band", bBand, STAR, [20, 20], { color: "rgba(0,0,0,0)", borderColor: C.blue, borderWidth: 2 }, 5),
        {
          type: "custom",
          name: "V-band limit",
          z: 5,
          silent: true,
          clip: true,
          data: vLimit,
          encode: { x: 0, y: 1 },
          renderItem: (_p: any, api: any) => {
            const x = api.value(0);
            const a = api.coord([x, api.value(1)]);
            const b = api.coord([x, api.value(2)]);
            const st = { stroke: C.blue, lineWidth: 2.5 };
            return {
              type: "group",
              children: [
                { type: "line", shape: { x1: a[0], y1: a[1], x2: b[0], y2: b[1] }, style: st },
                { type: "line", shape: { x1: b[0] - 6, y1: b[1] - 14, x2: b[0], y2: b[1] }, style: st },
                { type: "line", shape: { x1: b[0] + 6, y1: b[1] - 14, x2: b[0], y2: b[1] }, style: st },
              ],
            };
          },
        },
        scatter("V-band", vBand, "triangle", [20, 18], { color: C.blue }, 5),
        scatter("R-band", rBandJ, PLUS, [22, 24], { color: "rgba(0,0,0,0)", borderColor: C.R, borderWidth: 2.5 }, 6),
        scatter("I-band", iBandJ, "triangle", [22, 22], { color: C.I }, 7),
        scatter("g’-band", gBand, "rect", [25, 28], { color: C.g }, 8),
        scatter("r’-band", rBand, "circle", [22, 25], { color: C.r }, 9),
        scatter("i’-band", iBand, "rect", [25, 28], { color: C.i }, 10),
        scatter("y-band", yBand, "circle", [27, 30], { color: C.y }, 11),
      ],
      graphic: [
        ...legendGraphics(legendLeft, 1186, 1212, 1344),
        ...legendGraphics(legendRight, 2262, 2288, 2420),
      ],
    };

    chart.setOption(option);
    return () => chart.dispose();
  }, []);

  return (
    <div
      ref={ref}
      style={{ position: "absolute", left: 0, top: 0, width: 2607, height: 1790, background: "#fff" }}
    />
  );
}
